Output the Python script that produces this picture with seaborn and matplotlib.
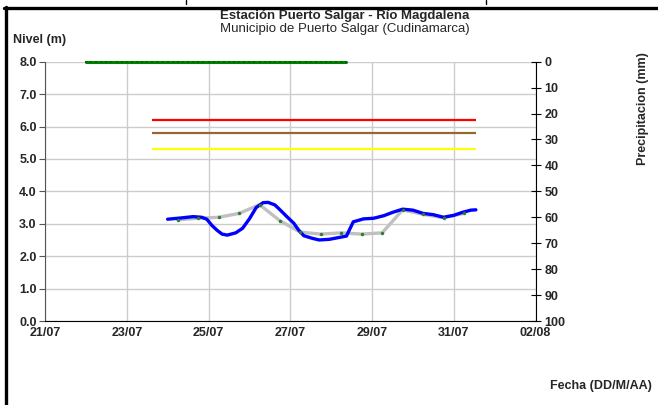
import matplotlib
matplotlib.use("Agg")
import matplotlib.pyplot as plt
import matplotlib.dates as mdates
from matplotlib.lines import Line2D
import seaborn as sns
import pandas as pd

# observed level (blue), hours after 24/07 00:00
level_hours = [0, 8, 15, 20, 23, 26, 29, 32, 35, 40, 44, 48, 52, 56, 59, 63,
               66, 70, 74, 77, 80, 85, 89, 95, 101, 105, 109, 115, 121, 127,
               132, 138, 144, 150, 156, 162, 168, 173, 178, 181]
level_values = [3.14, 3.18, 3.22, 3.20, 3.14, 2.95, 2.80, 2.68, 2.65, 2.72, 2.86, 3.15, 3.50, 3.65, 3.66, 3.58,
                3.43, 3.22, 3.02, 2.80, 2.63, 2.55, 2.50, 2.52, 2.58, 2.62, 3.06, 3.15, 3.17, 3.25,
                3.35, 3.45, 3.42, 3.32, 3.28, 3.20, 3.26, 3.35, 3.42, 3.43]

# reference level (gray with dots), every 12 h from 24/07 06:00
ref_hours = [6, 18, 30, 42, 54, 66, 78, 90, 102, 114, 126, 138, 150, 162, 174]
ref_values = [3.12, 3.17, 3.20, 3.32, 3.59, 3.09, 2.74, 2.68, 2.72, 2.68, 2.72, 3.43, 3.29, 3.19, 3.32]

# precipitation (green), hours after 22/07 00:00
rain_hours = list(range(0, 156, 3))
rain_values = [0] * len(rain_hours)

# alert thresholds
alert_levels = [6.2, 5.8, 5.3]
alert_colors = ["#ff0000", "#996633", "#ffff00"]
alert_start = pd.Timestamp("2014-07-23 15:00")
alert_end = pd.Timestamp("2014-07-31 13:00")

level_df = pd.DataFrame({
    "fecha": pd.Timestamp("2014-07-24") + pd.to_timedelta(level_hours, unit="h"),
    "nivel": level_values})
ref_df = pd.DataFrame({
    "fecha": pd.Timestamp("2014-07-24") + pd.to_timedelta(ref_hours, unit="h"),
    "nivel": ref_values})
rain_df = pd.DataFrame({
    "fecha": pd.Timestamp("2014-07-22") + pd.to_timedelta(rain_hours, unit="h"),
    "precip": rain_values})

sns.set_style("white")
plt.rcParams["font.family"] = ["Liberation Sans", "DejaVu Sans"]

fig = plt.figure(figsize=(6.58, 4.05), dpi=100)
ax = fig.add_axes([45 / 658, 1 - 321 / 405, 490.5 / 658, 259.3 / 405])
ax2 = ax.twinx()

for lvl, col in zip(alert_levels, alert_colors):
    ax.hlines(lvl, alert_start, alert_end, color=col, linewidth=1.6)

sns.lineplot(data=ref_df, x="fecha", y="nivel", ax=ax, color="#c0c0c0",
             linewidth=2.4, zorder=3)
sns.lineplot(data=ref_df, x="fecha", y="nivel", ax=ax, color="#2e7d32",
             linewidth=0, marker="o", markersize=2.5, markeredgewidth=0, zorder=5)
sns.lineplot(data=level_df, x="fecha", y="nivel", ax=ax, color="#0000ff",
             linewidth=2.4, zorder=4)

sns.lineplot(data=rain_df, x="fecha", y="precip", ax=ax2, color="#008000",
             linewidth=2.2, marker="s", markersize=1.5, markeredgewidth=0,
             markerfacecolor="#006400", clip_on=False, zorder=6)

ax.set_ylim(0, 8)
ax.set_xlim(pd.Timestamp("2014-07-21"), pd.Timestamp("2014-08-02"))
ax.set_yticks(range(9))
ax.set_yticklabels([f"{v:.1f}" for v in range(9)], fontsize=9, fontweight="bold")
ax.set_xticks(pd.date_range("2014-07-21", "2014-08-02", freq="2D"))
ax.xaxis.set_major_formatter(mdates.DateFormatter("%d/%m"))
for lab in ax.get_xticklabels():
    lab.set_fontsize(9)
    lab.set_fontweight("bold")
ax.grid(True, color="#cccccc", linewidth=1)
ax.set_axisbelow(True)
ax.set_xlabel("")
ax.set_ylabel("")

for s in ["top", "right"]:
    ax.spines[s].set_visible(False)
ax.spines["left"].set_color("#555555")
ax.spines["bottom"].set_color("black")
ax.tick_params(axis="y", direction="out", length=4, color="#555555", pad=2)
ax.tick_params(axis="x", direction="inout", length=6, color="black", pad=1)

ax2.set_ylim(100, 0)
ax2.set_yticks(range(0, 101, 10))
ax2.set_yticklabels([str(v) for v in range(0, 101, 10)], fontsize=9, fontweight="bold")
ax2.set_xlabel("")
ax2.set_ylabel("")
for s in ["top", "left", "bottom"]:
    ax2.spines[s].set_visible(False)
ax2.spines["right"].set_color("black")
ax2.tick_params(axis="y", direction="inout", length=7, color="black", pad=3)
ax2.grid(False)

fig.text(345 / 658, 1 - 16 / 405, "Estación Puerto Salgar - Río Magdalena",
         ha="center", va="center", fontsize=9.5, fontweight="bold")
fig.text(345 / 658, 1 - 29 / 405, "Municipio de Puerto Salgar (Cudinamarca)",
         ha="center", va="center", fontsize=9.5)
fig.text(13 / 658, 1 - 40 / 405, "Nivel (m)", ha="left", va="center",
         fontsize=9, fontweight="bold")
fig.text(643 / 658, 1 - 109 / 405, "Precipitacion (mm)", ha="center", va="center",
         rotation=90, fontsize=9, fontweight="bold")
fig.text(652 / 658, 1 - 386 / 405, "Fecha (DD/M/AA)", ha="right", va="center",
         fontsize=9, fontweight="bold")

# outer frame and small marks above it
fig.add_artist(Line2D([5.5 / 658, 5.5 / 658], [0, 1 - 6.5 / 405], color="black",
                      linewidth=2.4, transform=fig.transFigure))
fig.add_artist(Line2D([4.3 / 658, 1], [1 - 8 / 405, 1 - 8 / 405], color="black",
                      linewidth=2.4, transform=fig.transFigure))
for xm in [186, 486]:
    fig.add_artist(Line2D([xm / 658, xm / 658], [1, 1 - 4 / 405], color="black",
                          linewidth=1, transform=fig.transFigure))

fig.savefig("out.png", dpi=100)
